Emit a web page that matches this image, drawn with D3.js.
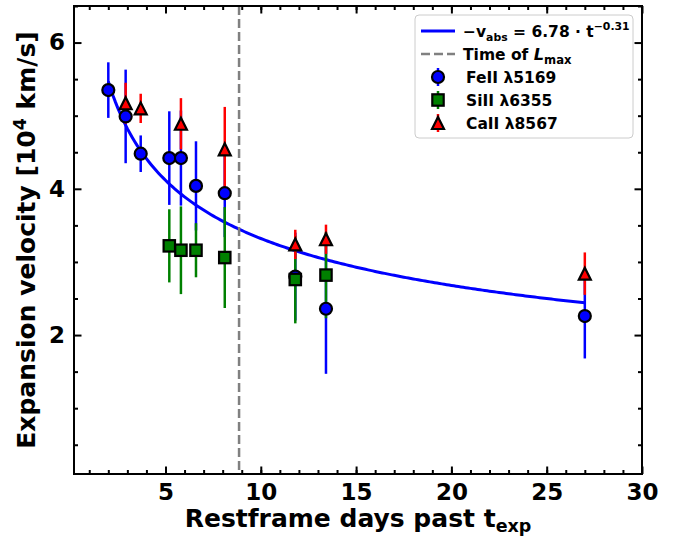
<!DOCTYPE html>
<html><head><meta charset="utf-8">
<script src="https://cdn.jsdelivr.net/npm/d3@7/dist/d3.min.js"></script>
<style>body{margin:0;background:#fff}svg{display:block}text{font-family:"DejaVu Sans",sans-serif}</style>
</head><body><svg id="c" width="683" height="543"></svg>
<script>
// ---- data ----
const feT   = [2.0, 2.91, 3.70, 5.2, 5.81, 6.6, 8.11, 11.81, 13.42, 27.0];
const feV   = [5.35, 4.99, 4.48, 4.42, 4.42, 4.04, 3.94, 2.80, 2.36, 2.26];
const feErr = [0.38, 0.64, 0.25, 0.64, 0.65, 0.61, 0.60, 0.60, 0.89, 0.58];
const siT   = [5.2, 5.81, 6.6, 8.11, 11.81, 13.42];
const siV   = [3.22, 3.16, 3.16, 3.06, 2.76, 2.82];
const siErr = [0.50, 0.60, 0.37, 0.69, 0.60, 0.59];
const caT   = [2.91, 3.70, 5.81, 8.11, 11.81, 13.42, 27.0];
const caV   = [5.17, 5.10, 4.89, 4.54, 3.24, 3.31, 2.84];
const caErr = [0.28, 0.20, 0.35, 0.58, 0.20, 0.20, 0.29];
const fitAmp = 6.78, fitIndex = -0.31, fitRange = [2.0, 27.0];
const tLmax = 8.86;
const xMajor = [5, 10, 15, 20, 25, 30];
const xMinor = d3.range(1, 30);
const yMajor = [2, 4, 6];
const yMinor = [0.5, 1, 1.5, 2.5, 3, 3.5, 4.5, 5, 5.5, 6.5];

// ---- layout ----
const L = 74, R = 642, T = 6, B = 474;
const svg = d3.select("#c");
const x = d3.scaleLinear().domain([0.2, 30]).range([L, R]);
const y = d3.scaleLinear().domain([0.1, 6.5]).range([B, T]);

const series = [
  {t: feT, v: feV, e: feErr, color: "#0000ff", shape: "circle"},
  {t: siT, v: siV, e: siErr, color: "#008000", shape: "square"},
  {t: caT, v: caV, e: caErr, color: "#ff0000", shape: "triangle"}
];

// fit line
const fitPts = d3.range(0, 201).map(i => {
  const t = fitRange[0] + (fitRange[1] - fitRange[0]) * i / 200;
  return [t, fitAmp * Math.pow(t, fitIndex)];
});
svg.append("path").datum(fitPts)
  .attr("d", d3.line().x(d => x(d[0])).y(d => y(d[1])))
  .attr("fill", "none").attr("stroke", "#0000ff").attr("stroke-width", 3);

// vertical dashed line
svg.append("line").attr("x1", x(tLmax)).attr("x2", x(tLmax)).attr("y1", T).attr("y2", B)
  .attr("stroke", "#808080").attr("stroke-width", 2.5).attr("stroke-dasharray", "9,4");

// error bars (all first)
series.forEach(s => {
  svg.append("g").selectAll("line").data(s.t.map((t, i) => ({t, v: s.v[i], e: s.e[i]})))
    .join("line")
    .attr("x1", d => x(d.t)).attr("x2", d => x(d.t))
    .attr("y1", d => y(d.v - d.e)).attr("y2", d => y(d.v + d.e))
    .attr("stroke", s.color).attr("stroke-width", 2.5);
});

function marker(g, shape, color, cx, cy) {
  if (shape === "circle") {
    g.append("circle").attr("cx", cx).attr("cy", cy).attr("r", 6)
      .attr("fill", color).attr("stroke", "#000").attr("stroke-width", 2.2);
  } else if (shape === "square") {
    g.append("rect").attr("x", cx - 5.7).attr("y", cy - 5.7).attr("width", 11.4).attr("height", 11.4)
      .attr("fill", color).attr("stroke", "#000").attr("stroke-width", 2.2);
  } else {
    const h = 6;
    g.append("path").attr("d", `M${cx},${cy - h}L${cx + h},${cy + h}L${cx - h},${cy + h}Z`)
      .attr("fill", color).attr("stroke", "#000").attr("stroke-width", 2.2).attr("stroke-linejoin", "miter");
  }
}
// markers
series.forEach(s => {
  const g = svg.append("g");
  s.t.forEach((t, i) => marker(g, s.shape, s.color, x(t), y(s.v[i])));
});

// ---- axes ----
const tickFont = 23;
function styleAxis(g) {
  g.select(".domain").remove();
  g.selectAll("line").attr("stroke", "#000").attr("stroke-width", 2);
  g.selectAll("text").attr("font-size", tickFont).attr("font-weight", "bold").attr("fill", "#000")
    .attr("font-family", "DejaVu Sans");
}
svg.append("g").attr("transform", `translate(0,${B})`)
  .call(d3.axisBottom(x).tickValues(xMinor).tickSize(-4).tickFormat("")).call(styleAxis);
svg.append("g").attr("transform", `translate(0,${B})`)
  .call(d3.axisBottom(x).tickValues(xMajor).tickSize(-7.5).tickPadding(10).tickFormat(d3.format("d"))).call(styleAxis);
svg.append("g").attr("transform", `translate(0,${T})`)
  .call(d3.axisTop(x).tickValues(xMinor).tickSize(-4).tickFormat("")).call(styleAxis);
svg.append("g").attr("transform", `translate(0,${T})`)
  .call(d3.axisTop(x).tickValues(xMajor).tickSize(-7.5).tickFormat("")).call(styleAxis);
svg.append("g").attr("transform", `translate(${L},0)`)
  .call(d3.axisLeft(y).tickValues(yMinor).tickSize(-4).tickFormat("")).call(styleAxis);
svg.append("g").attr("transform", `translate(${L},0)`)
  .call(d3.axisLeft(y).tickValues(yMajor).tickSize(-7.5).tickPadding(9).tickFormat(d3.format("d"))).call(styleAxis);
svg.append("g").attr("transform", `translate(${R},0)`)
  .call(d3.axisRight(y).tickValues(yMinor).tickSize(-4).tickFormat("")).call(styleAxis);
svg.append("g").attr("transform", `translate(${R},0)`)
  .call(d3.axisRight(y).tickValues(yMajor).tickSize(-7.5).tickFormat("")).call(styleAxis);

svg.append("rect").attr("x", L).attr("y", T).attr("width", R - L).attr("height", B - T)
  .attr("fill", "none").attr("stroke", "#000").attr("stroke-width", 2);

// axis labels
const labFont = 25;
const xl = svg.append("text").attr("x", (L + R) / 2).attr("y", 527).attr("text-anchor", "middle")
  .attr("font-size", labFont).attr("font-weight", "bold");
xl.append("tspan").text("Restframe days past t");
xl.append("tspan").attr("font-size", labFont * 0.7).attr("dy", 5).text("exp");

const yl = svg.append("text").attr("transform", `translate(35,${(T + B) / 2}) rotate(-90)`)
  .attr("text-anchor", "middle").attr("font-size", labFont).attr("font-weight", "bold");
yl.append("tspan").text("Expansion velocity [10");
yl.append("tspan").attr("font-size", labFont * 0.7).attr("dy", -9).text("4");
yl.append("tspan").attr("dy", 9).text(" km/s]");

// ---- legend ----
const lg = svg.append("g");
lg.append("rect").attr("x", 415).attr("y", 15).attr("width", 218).attr("height", 123).attr("rx", 4)
  .attr("fill", "#fff").attr("fill-opacity", 0.8).attr("stroke", "#cccccc").attr("stroke-width", 1);
const legFont = 15.5, lx0 = 421, lx1 = 455, lmx = 438, ltx = 463;
const rows = [31, 54, 77, 100, 123];
lg.append("line").attr("x1", lx0).attr("x2", lx1).attr("y1", rows[0]).attr("y2", rows[0])
  .attr("stroke", "#0000ff").attr("stroke-width", 3);
lg.append("line").attr("x1", lx0).attr("x2", lx1).attr("y1", rows[1]).attr("y2", rows[1])
  .attr("stroke", "#808080").attr("stroke-width", 2.5).attr("stroke-dasharray", "9,4");
series.forEach((s, i) => {
  const yy = rows[i + 2];
  lg.append("line").attr("x1", lmx).attr("x2", lmx).attr("y1", yy - 9).attr("y2", yy + 9)
    .attr("stroke", s.color).attr("stroke-width", 2.5);
  marker(lg, s.shape, s.color, lmx, yy);
});
function ltext(yy, x0) {
  return lg.append("text").attr("x", x0).attr("y", yy + 5.5).attr("font-size", legFont).attr("font-weight", "bold");
}
const t0 = ltext(rows[0], ltx);
t0.append("tspan").text("\u2212v");
t0.append("tspan").attr("font-size", legFont * 0.7).attr("dy", 4).text("abs");
t0.append("tspan").attr("dy", -4).text(" = 6.78 \u00b7 t");
t0.append("tspan").attr("font-size", legFont * 0.7).attr("dy", -7).text("\u22120.31");
const t1 = ltext(rows[1], ltx);
t1.append("tspan").text("Time of ");
t1.append("tspan").attr("font-style", "italic").attr("font-size", legFont * 1.05).text("L");
t1.append("tspan").attr("font-size", legFont * 0.75).attr("dy", 4).text("max");
ltext(rows[2], ltx + 3).text("FeII \u03bb5169");
ltext(rows[3], ltx + 3).text("SiII \u03bb6355");
ltext(rows[4], ltx + 3).text("CaII \u03bb8567");
</script></body></html>
